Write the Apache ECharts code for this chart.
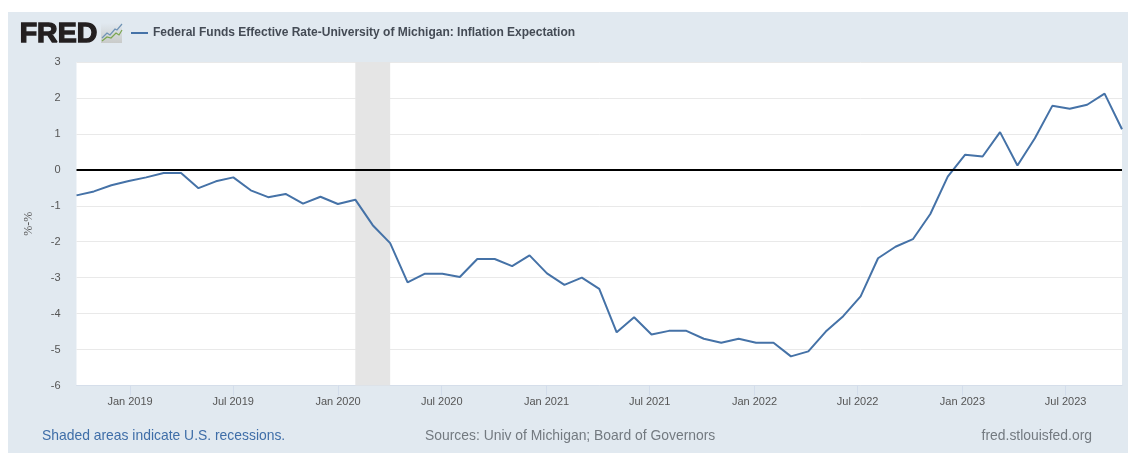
<!DOCTYPE html>
<html>
<head>
  <meta charset="UTF-8">
  <style>
    html, body { margin: 0; padding: 0; background: #fff; }
  </style>
  <script src="https://cdn.jsdelivr.net/npm/echarts@6/dist/echarts.min.js"></script>
</head>
<body>
  <div id="chart" style="width: 1128px; height:453px;"></div>
  <script>
    const months = ['2018-10','2018-11','2018-12',
      '2019-01','2019-02','2019-03','2019-04','2019-05','2019-06','2019-07','2019-08','2019-09','2019-10','2019-11','2019-12',
      '2020-01','2020-02','2020-03','2020-04','2020-05','2020-06','2020-07','2020-08','2020-09','2020-10','2020-11','2020-12',
      '2021-01','2021-02','2021-03','2021-04','2021-05','2021-06','2021-07','2021-08','2021-09','2021-10','2021-11','2021-12',
      '2022-01','2022-02','2022-03','2022-04','2022-05','2022-06','2022-07','2022-08','2022-09','2022-10','2022-11','2022-12',
      '2023-01','2023-02','2023-03','2023-04','2023-05','2023-06','2023-07','2023-08','2023-09','2023-10']
    const rateGap = [-0.71,-0.6,-0.43,
      -0.31,-0.21,-0.09,-0.09,-0.51,-0.32,-0.21,-0.57,-0.76,-0.67,-0.94,-0.75,
      -0.95,-0.83,-1.54,-2.04,-3.13,-2.89,-2.89,-2.98,-2.48,-2.48,-2.68,-2.38,
      -2.88,-3.2,-3.0,-3.31,-4.52,-4.1,-4.58,-4.48,-4.48,-4.7,-4.81,-4.7,
      -4.81,-4.81,-5.19,-5.05,-4.5,-4.07,-3.52,-2.46,-2.14,-1.93,-1.23,-0.19,
      0.42,0.37,1.05,0.12,0.88,1.78,1.7,1.81,2.12,1.13]
    const tickDates = ['2019-01-01','2019-07-01','2020-01-01','2020-07-01','2021-01-01','2021-07-01','2022-01-01','2022-07-01','2023-01-01','2023-07-01']
    const recession = ['2020-02','2020-04']
    const seriesName = 'Federal Funds Effective Rate-University of Michigan: Inflation Expectation'
    const monthNames = ['Jan','Feb','Mar','Apr','May','Jun','Jul','Aug','Sep','Oct','Nov','Dec']

    const panelColor = '#e1e9f0'
    const tickValues = tickDates.map(d => new Date(d + 'T00:00:00').getTime())

    const myChart = echarts.init(document.getElementById('chart'))

    const options = {
      animation: false,
      backgroundColor: '#fff',
      textStyle: { fontFamily: '"Liberation Sans", Arial, sans-serif' },
      grid: { left: 76.5, right: 6, top: 62, bottom: 67.5, backgroundColor: '#fff', show: true, borderWidth: 0 },
      legend: {
        left: 126, top: 22,
        itemWidth: 17, itemHeight: 2, itemGap: 5,
        icon: 'rect',
        selectedMode: false,
        textStyle: { color: '#444b55', fontSize: 12, fontWeight: 'bold', fontFamily: '"Liberation Sans", Arial, sans-serif' },
        data: [seriesName]
      },
      // the line sits on evenly spaced months, the date labels come from the second axis
      xAxis: [
        { type: 'category', data: months, boundaryGap: false, show: false },
        {
          type: 'value',
          position: 'bottom',
          min: new Date('2018-09-29T00:00:00').getTime(),
          max: new Date('2023-10-08T00:00:00').getTime(),
          axisLine: { show: true, lineStyle: { color: '#d5deea', width: 1 } },
          axisTick: { show: true, length: 10, customValues: tickValues, lineStyle: { color: '#d3ddeb', width: 1 } },
          axisLabel: {
            customValues: tickValues,
            margin: 11,
            color: '#555',
            fontSize: 11,
            hideOverlap: false,
            formatter: v => {
              const d = new Date(v)
              return monthNames[d.getMonth()] + ' ' + d.getFullYear()
            }
          },
          splitLine: { show: false }
        }
      ],
      yAxis: {
        type: 'value',
        min: -6, max: 3, interval: 1,
        name: '%-%',
        nameLocation: 'middle',
        nameGap: 42,
        nameTextStyle: { color: '#555', fontSize: 12, fontFamily: '"Liberation Serif", serif' },
        axisLine: { show: false },
        axisTick: { show: false },
        axisLabel: { color: '#555', fontSize: 11, margin: 16, padding: [3, 0, 0, 0] },
        splitLine: { show: true, lineStyle: { color: '#e9e9e9', width: 1 } }
      },
      series: [
        {
          name: seriesName,
          type: 'line',
          xAxisIndex: 0,
          data: rateGap,
          showSymbol: false,
          lineStyle: { color: '#4572a7', width: 2 },
          itemStyle: { color: '#4572a7' },
          markArea: {
            silent: true,
            itemStyle: { color: '#e5e5e5' },
            data: [[{ xAxis: recession[0] }, { xAxis: recession[1] }]]
          },
          markLine: {
            silent: true,
            symbol: 'none',
            label: { show: false },
            lineStyle: { color: '#000', width: 2, type: 'solid' },
            data: [{ yAxis: 0 }]
          }
        }
      ],
      graphic: [
        { type: 'rect', z: -10, silent: true, shape: { x: 8, y: 12, width: 1120, height: 441 }, style: { fill: panelColor } },
        { type: 'text', left: 19, top: 19, style: { text: 'FRED', fill: '#231f20', font: '900 28.5px "Liberation Sans", Arial, sans-serif', stroke: '#231f20', lineWidth: 1.4 } },
        // little chart icon of the logo
        {
          type: 'rect', silent: true, shape: { x: 101, y: 23, width: 21, height: 20 },
          style: { fill: new echarts.graphic.LinearGradient(0, 0, 0, 1, [{ offset: 0, color: panelColor }, { offset: 1, color: '#c9cbc9' }]) }
        },
        { type: 'polyline', silent: true, shape: { points: [[102,38],[107,33],[110,35],[115,29],[117,30],[122,24]] }, style: { stroke: '#6f93b5', fill: null, lineWidth: 1.2 } },
        { type: 'polyline', silent: true, shape: { points: [[102,41],[107,37],[111,38],[116,33],[119,35],[122,30]] }, style: { stroke: '#7ba650', fill: null, lineWidth: 1.2 } },
        { type: 'text', left: 42, top: 429, style: { text: 'Shaded areas indicate U.S. recessions.', fill: '#3f6ea8', font: '13.9px "Liberation Sans", Arial, sans-serif' } },
        { type: 'text', left: 425, top: 429, style: { text: 'Sources: Univ of Michigan; Board of Governors', fill: '#737a80', font: '13.9px "Liberation Sans", Arial, sans-serif' } },
        { type: 'text', right: 36, top: 429, style: { text: 'fred.stlouisfed.org', fill: '#737a80', font: '13.9px "Liberation Sans", Arial, sans-serif' } }
      ]
    }

    myChart.setOption(options)
  </script>
</body>
</html>
